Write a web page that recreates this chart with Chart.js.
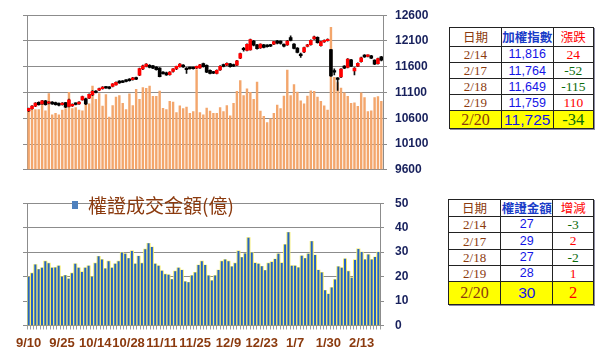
<!DOCTYPE html>
<html><head><meta charset="utf-8">
<script src="https://cdn.jsdelivr.net/npm/chart.js@4.4.1/dist/chart.umd.min.js"></script>
<style>
html,body{margin:0;padding:0;background:#fff}
body{width:600px;height:358px;position:relative;overflow:hidden;font-family:"Liberation Sans",Arial,sans-serif}
#w1{position:absolute;left:0;top:0;width:440px;height:185px}
#w2{position:absolute;left:0;top:185px;width:440px;height:173px}
table.t{position:absolute;border-collapse:collapse;table-layout:fixed;border:1.5px solid #222;box-shadow:1px 1px 0 #8a8aa0;background:#fff}
table.t td{border:1px solid #222;text-align:center;padding:0;white-space:nowrap;overflow:hidden;line-height:1}
.hd{font-family:"Noto Sans CJK TC",sans-serif;font-size:12.5px}
.dt{font-family:"Liberation Serif",serif;font-size:13px;color:#8b3a0e}
.vl{font-family:"Liberation Sans",Arial,sans-serif;font-size:12.5px;color:#1414e6}
.ch{font-family:"Liberation Serif",serif;font-size:13.5px}
.up{color:#ff0000}.dn{color:#0b6b0b}
tr.last td{background:#ffff00}
tr.last .dt{font-size:16px}
tr.last .vl{font-size:15.5px}
tr.last .ch{font-size:16.5px}
</style></head>
<body>
<div id="w1"><canvas id="c1" width="440" height="185"></canvas></div>
<div id="w2"><canvas id="c2" width="440" height="173"></canvas></div>
<table class="t" id="tb1" style="left:449px;top:27px;width:145px"></table>
<table class="t" id="tb2" style="left:448px;top:199px;width:146px"></table>
<script>
// ---- categories (trading days) ----
const dates = ["9/10","9/11","9/12","9/16","9/17","9/18","9/19","9/20","9/23","9/24",
"9/25","9/26","9/27","10/1","10/2","10/3","10/4","10/7","10/8","10/9",
"10/14","10/15","10/16","10/17","10/18","10/21","10/22","10/23","10/24","10/25",
"10/28","10/29","10/30","10/31","11/1","11/4","11/5","11/6","11/7","11/8",
"11/11","11/12","11/13","11/14","11/15","11/18","11/19","11/20","11/21","11/22",
"11/25","11/26","11/27","11/28","11/29","12/2","12/3","12/4","12/5","12/6",
"12/9","12/10","12/11","12/12","12/13","12/16","12/17","12/18","12/19","12/20",
"12/23","12/24","12/25","12/26","12/27","12/30","12/31","1/2","1/3","1/6",
"1/7","1/8","1/9","1/10","1/13","1/14","1/15","1/16","1/17","1/20",
"1/30","1/31","2/3","2/4","2/5","2/6","2/7","2/10","2/11","2/12",
"2/13","2/14","2/17","2/18","2/19","2/20"];
// ---- TAIEX candles ----
const opens = [10743,10786,10835,10909,10878,10940,10891,10915,10903,10891,
10866,10903,10830,10840,10890,10880,10958,10977,10990,11051,
11125,11143,11174,11211,11205,11218,11248,11323,11323,11341,
11360,11347,11390,11434,11557,11607,11625,11619,11594,11576,
11495,11483,11446,11507,11557,11600,11631,11576,11582,11582,
11570,11576,11660,11625,11530,11500,11470,11540,11640,11630,
11655,11640,11630,11764,11945,11916,11927,12098,12026,11964,
12026,12020,12026,12038,12100,12097,12036,12024,12165,12040,
11960,11830,11886,11995,12030,12140,12170,12010,12080,12105,
11934,11500,11370,11400,11612,11585,11735,11520,11613,11700,
11825,11800,11810,11727,11661,11790];
const highs = [10800,10845,10905,10920,10950,10950,10925,10925,10912,10900,
10905,10910,10970,10880,10900,10925,11030,10990,11075,11135,
11135,11185,11215,11220,11215,11275,11305,11330,11330,11350,
11370,11395,11400,11575,11630,11660,11640,11628,11605,11585,
11505,11495,11505,11565,11615,11660,11640,11585,11592,11592,
11615,11648,11670,11635,11540,11510,11540,11620,11650,11675,
11665,11650,11725,11865,11975,12045,12135,12110,12035,12045,
12035,12030,12035,12095,12110,12105,12045,12110,12200,12050,
11970,11865,11980,12035,12120,12197,12180,12095,12120,12140,
11940,11560,11390,11565,11620,11760,11745,11585,11675,11785,
11835,11830,11820,11735,11770,11800];
const lows = [10730,10775,10825,10855,10870,10855,10880,10868,10855,10840,
10855,10805,10820,10830,10860,10870,10950,10865,10980,11040,
11090,11135,11165,11178,11170,11210,11240,11278,11290,11305,
11320,11340,11350,11425,11545,11595,11578,11560,11535,11400,
11455,11430,11435,11495,11545,11590,11585,11470,11555,11555,
11560,11568,11590,11485,11460,11465,11460,11530,11595,11620,
11590,11600,11620,11755,11900,11905,11920,12005,11940,11955,
11965,11980,11990,12030,12045,12040,11985,12015,12100,11945,
11870,11780,11875,11985,12020,12130,12055,12000,12070,12095,
11410,11440,11140,11390,11560,11575,11600,11440,11600,11690,
11780,11790,11755,11640,11650,11715];
const closes = [10792,10835,10897,10866,10940,10866,10915,10878,10866,10854,
10897,10817,10959,10870,10870,10915,11020,10878,11063,11125,
11100,11174,11205,11187,11180,11267,11298,11286,11298,11316,
11329,11384,11360,11563,11619,11650,11588,11570,11545,11409,
11464,11440,11495,11557,11606,11650,11594,11545,11563,11563,
11606,11637,11600,11495,11470,11475,11530,11610,11605,11665,
11600,11610,11716,11855,11930,12036,12127,12018,11950,12038,
11977,11989,12001,12088,12057,12050,11997,12100,12110,11953,
11880,11817,11970,12025,12113,12179,12066,12088,12110,12130,
11421,11495,11354,11555,11573,11749,11612,11573,11664,11774,
11791,11816,11764,11649,11759,11725];
// ---- market turnover (億) ----
const volume = [1164,1194,1176,1176,1316,1152,1485,1073,1103,1073,
1164,1194,1510,1194,1213,1164,1152,1316,1285,1630,
1376,1485,1243,1467,1030,1255,1419,1449,1298,1176,
1479,1255,1570,1376,1600,1588,1630,1431,1431,1534,
1200,1176,1334,1322,1115,1249,1194,1225,1103,1134,
1952,1115,1073,1206,1146,1103,1103,1212,1134,1255,
1055,1298,1528,1740,1449,1576,1510,1376,1710,1146,
1043,922,995,1103,1261,1194,1437,1940,1449,1661,
1516,1346,1285,1437,1540,1528,1419,1334,1250,1164,
2771,1800,1700,1590,1500,1430,1298,1306,1240,1498,
1407,1134,1152,1407,1428,1334];
// ---- warrant turnover (億) ----
const warrant = [19.8,21.4,24.9,23,23.6,26.3,25.5,23.6,23.7,24.4,
19.9,20.5,19.1,21.4,25.2,23.6,21.9,23.6,24.4,19.9,
25.5,28.3,27,23.3,26.3,23.6,25.2,26.3,29.8,29.3,
27.5,30.5,25.2,28.4,25.5,31.2,33.6,32.1,25.2,24.4,
22.4,21,20.7,18.9,22.2,23.6,22.7,18,17.7,20.4,
21.7,24.7,26.3,24.7,20.4,18.4,20.4,22.7,26.3,27,
26.3,24.1,25.5,30.5,27.9,29.4,35.9,29.8,25.6,25.2,
24.2,22.6,25.5,26,27.2,29.3,25.6,33.1,38.1,24.4,
24.4,23.7,28.5,27.5,29.3,34.4,28.8,22.7,21.7,14.4,
12.9,15.5,18.8,24.1,23.6,27.3,22.2,19.5,26.8,31.3,
30,27,29,27,28,30];
// ---- tick labels ----
const indexTicks = [9600,10100,10600,11100,11600,12100,12600];
const warrantTicks = [0,10,20,30,40,50];
const xLabelEvery = 10;
// ---- tables ----
const tblDates = ["2/14","2/17","2/18","2/19","2/20"];
const tblIndex = ["11,816","11,764","11,649","11,759","11,725"];
const tblIndexChg = [24,-52,-115,110,-34];
const tblWarrant = [27,29,27,28,30];
const tblWarrantChg = [-3,2,-2,1,2];
const legendLabel = "權證成交金額(億)";

const axisFont = {family:'"Liberation Sans", Arial, sans-serif', size:12, weight:'bold'};
const gridCol = '#8c8c8c';

new Chart(document.getElementById('c1'), {
  type:'bar',
  data:{labels:dates, datasets:[
    {label:'body', data:opens.map((o,i)=>[o,closes[i]]), yAxisID:'y',
     backgroundColor:c=>closes[c.dataIndex]>=opens[c.dataIndex]?'#ff0000':'#000000',
     barThickness:3, minBarLength:1.5, grouped:false, order:0},
    {label:'wick', data:lows.map((l,i)=>[l,highs[i]]), yAxisID:'y',
     backgroundColor:'#111', barThickness:1, grouped:false, order:1},
    {label:'vol', data:volume, yAxisID:'yv', backgroundColor:'#f3a66c',
     barPercentage:0.72, categoryPercentage:1, grouped:false, order:2}
  ]},
  options:{responsive:false, animation:false, events:[],
    plugins:{legend:{display:false}, tooltip:{enabled:false}},
    layout:{padding:{top:10,bottom:9,left:0,right:0}},
    scales:{
      x:{display:false, offset:true},
      y:{position:'right', min:9600, max:12600,
         afterBuildTicks:s=>{s.ticks=indexTicks.map(v=>({value:v}));},
         ticks:{color:'#17205c', font:axisFont, padding:8, callback:v=>String(v)},
         grid:{color:gridCol, lineWidth:1, tickLength:4},
         border:{color:gridCol},
         afterFit:s=>{s.width=57;}},
      yv:{position:'left', min:0, max:3000, ticks:{display:false, stepSize:500},
         grid:{drawOnChartArea:false, tickLength:4, color:gridCol},
         border:{color:gridCol},
         afterFit:s=>{s.width=27;}}
    }}
});

const legendPlugin = {id:'lg', afterDraw(chart){
  const c = chart.ctx; c.save();
  c.fillStyle='#4f81bd'; c.fillRect(72,16,6,8);
  c.font='19px "Noto Sans CJK TC", sans-serif'; c.fillStyle='#8b3a0e';
  c.textBaseline='middle'; c.textAlign='left';
  c.fillText(chart.data.datasets[0].label, 88, 20.5);
  c.restore();
}};

new Chart(document.getElementById('c2'), {
  type:'bar',
  data:{labels:dates, datasets:[
    {label:legendLabel, data:warrant, yAxisID:'y', backgroundColor:'#2462c6',
     barPercentage:0.6, categoryPercentage:1, grouped:false, order:0},
    {label:'glow', data:warrant, yAxisID:'y', backgroundColor:'#f4ec66',
     barPercentage:1, categoryPercentage:1, grouped:false, order:1}
  ]},
  options:{responsive:false, animation:false, events:[],
    plugins:{legend:{display:false}, tooltip:{enabled:false}},
    layout:{padding:{top:9,bottom:0,left:0,right:0}},
    scales:{
      x:{offset:true, grid:{drawOnChartArea:false, tickLength:4, color:'#a0a0a0'},
         border:{color:gridCol},
         ticks:{autoSkip:false, maxRotation:0, minRotation:0, padding:6, color:'#8b3a0e',
                font:{family:'"Liberation Sans", Arial, sans-serif', size:13, weight:'bold'},
                callback:(v,i)=> i%xLabelEvery===0 ? dates[i] : ''},
         afterFit:s=>{s.height=32.5;}},
      y:{position:'right', min:0, max:50,
         afterBuildTicks:s=>{s.ticks=warrantTicks.map(v=>({value:v}));},
         ticks:{color:'#17205c', font:axisFont, padding:11, callback:v=>String(v)},
         grid:{color:gridCol, lineWidth:1, tickLength:4},
         border:{color:gridCol},
         afterFit:s=>{s.width=60;}},
      yl:{position:'left', min:0, max:50, ticks:{display:false, stepSize:10},
         grid:{drawOnChartArea:false, tickLength:4, color:gridCol},
         border:{color:gridCol},
         afterFit:s=>{s.width=27;}}
    }},
  plugins:[legendPlugin]
});

function buildTable(id, head2, vals, chg, heights){
  const t = document.getElementById(id);
  let h = '<colgroup><col style="width:36%"><col style="width:36%"><col style="width:28%"></colgroup>';
  h += `<tr style="height:${heights[0]}px"><td class="hd" style="color:#8b3a0e">日期</td><td class="hd" style="color:#1a3cc8;font-weight:bold">${head2}</td><td class="hd" style="color:#ff0000">${id==='tb1'?'漲跌':'增減'}</td></tr>`;
  for(let i=0;i<tblDates.length;i++){
    const last = i===tblDates.length-1;
    const c = chg[i];
    h += `<tr class="${last?'last':''}" style="height:${heights[i+1]}px"><td class="dt">${tblDates[i]}</td><td class="vl">${vals[i]}</td><td class="ch ${c>=0?'up':'dn'}">${c}</td></tr>`;
  }
  t.innerHTML = h;
}
buildTable('tb1','加權指數',tblIndex,tblIndexChg,[18.7,16.7,16,16,16,18]);
buildTable('tb2','權證金額',tblWarrant,tblWarrantChg,[16.7,16.7,16.7,16,16,22.7]);
</script>
</body></html>
